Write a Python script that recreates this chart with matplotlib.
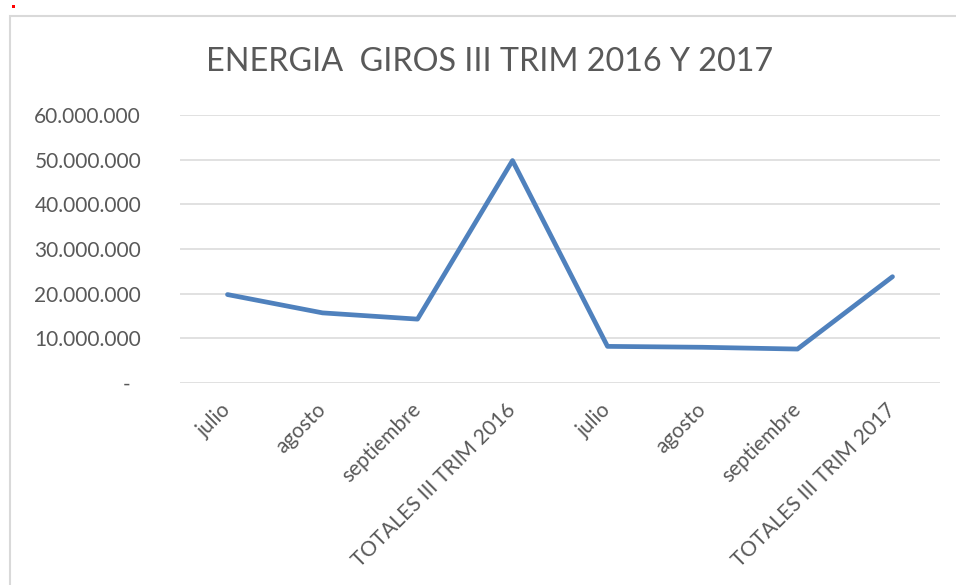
import matplotlib.pyplot as plt
from matplotlib.patches import Rectangle
from matplotlib.ticker import FuncFormatter

## Datos
meses = ['julio', 'agosto', 'septiembre', 'TOTALES III TRIM 2016',
         'julio', 'agosto', 'septiembre', 'TOTALES III TRIM 2017']
energia = [19.8e6, 15.7e6, 14.3e6, 49.8e6, 8.2e6, 8.0e6, 7.6e6, 23.8e6]
yticks = [0, 10e6, 20e6, 30e6, 40e6, 50e6, 60e6]

plt.rcParams['font.family'] = ['Lato', 'DejaVu Sans']
gris = '#595959'

fig = plt.figure(figsize=(9.56, 5.85), dpi=100)
W, H = 956, 585

# marco del grafico y punto rojo
fig.patches.append(Rectangle((10 / W, -0.1), 1.2, 1 - 16 / H + 0.1, transform=fig.transFigure,
                             fill=False, edgecolor='#d9d9d9', linewidth=1.5))
fig.patches.append(Rectangle((12 / W, 1 - 8 / H), 3 / W, 3 / H, transform=fig.transFigure,
                             color='red', linewidth=0))

ax = fig.add_axes([180 / W, 1 - 383 / H, 760 / W, 268 / H])
x = list(range(len(meses)))
ax.plot(x, energia, color='#4f81bd', linewidth=3.4, solid_capstyle='round',
        solid_joinstyle='round', zorder=3)

ax.set_xlim(-0.5, len(meses) - 0.5)
ax.set_ylim(0, 60e6)
ax.set_yticks(yticks)
ax.yaxis.set_major_formatter(FuncFormatter(
    lambda v, p: '-  ' if v == 0 else f'{int(v):,}'.replace(',', '.')))
ax.grid(axis='y', color='#d9d9d9', linewidth=1.1)
ax.set_axisbelow(True)
for s in ['top', 'right', 'left', 'bottom']:
    ax.spines[s].set_visible(False)

ax.set_xticks(x)
ax.set_xticklabels(meses, rotation=45, ha='right', va='center', rotation_mode='anchor')
ax.tick_params(axis='both', length=0, labelsize=15, labelcolor=gris)
ax.tick_params(axis='y', pad=28)
ax.tick_params(axis='x', pad=17)

fig.text(490 / W, 1 - 62 / H, 'ENERGIA  GIROS III TRIM 2016 Y 2017', ha='center', va='center',
         fontsize=23.3, color=gris)

fig.savefig('out.png', dpi=100)
